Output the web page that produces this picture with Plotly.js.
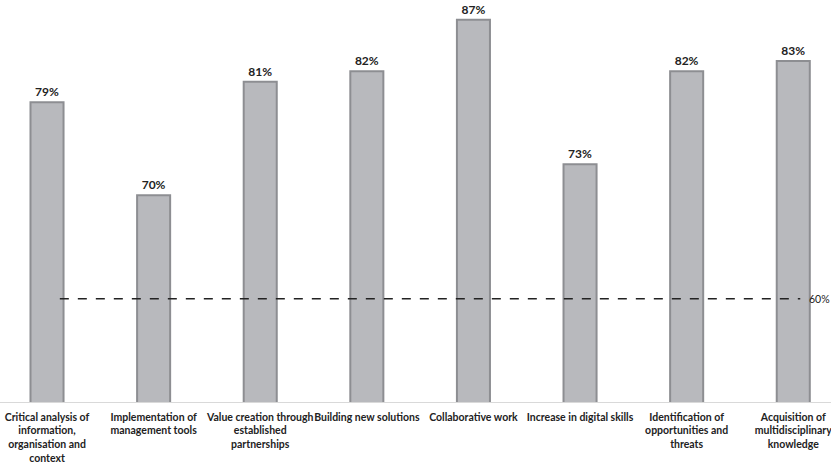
<!DOCTYPE html>
<html>
<head>
<meta charset="utf-8">
<script src="https://cdn.plot.ly/plotly-3.0.1.min.js"></script>
<style>html,body{margin:0;padding:0;background:#fff;}#chart{width:831px;height:463px;}</style>
</head>
<body>
<div id="chart"></div>
<script>
const categories = [
  "Critical analysis of<br>information,<br>organisation and<br>context",
  "Implementation of<br>management tools",
  "Value creation through<br>established<br>partnerships",
  "Building new solutions",
  "Collaborative work",
  "Increase in digital skills",
  "Identification of<br>opportunities and<br>threats",
  "Acquisition of<br>multidisciplinary<br>knowledge"
];
const values = [79, 70, 81, 82, 87, 73, 82, 83];
const threshold = 60;
const thresholdLabel = "60%";

const trace = {
  type: "bar",
  x: categories,
  y: values,
  width: 0.31,
  marker: { color: "#b8b9bd", line: { color: "#8d8e92", width: 2 } },
  texttemplate: "%{y}%",
  textposition: "outside",
  textfont: { family: "Lato, 'Open Sans', sans-serif", size: 12, color: "#222", weight: "bold" },
  hoverinfo: "skip"
};

const layout = {
  width: 831, height: 463,
  margin: { l: 0, r: 0, t: 0, b: 61 },
  paper_bgcolor: "#fff", plot_bgcolor: "#fff",
  showlegend: false,
  font: { family: "Lato, 'Open Sans', sans-serif", color: "#222" },
  xaxis: {
    type: "category",
    range: [-0.441, 7.354],
    showline: true, linecolor: "#d9d9d9", linewidth: 1,
    ticks: "", showgrid: false, zeroline: false,
    ticklabelstandoff: 5,
    tickfont: { family: "Lato, 'Open Sans', sans-serif", size: 10.5, color: "#222", weight: "bold" },
    tickangle: 0
  },
  yaxis: { range: [50, 88.9], visible: false, showgrid: false, zeroline: false },
  shapes: [{
    type: "line", xref: "paper", yref: "y",
    x0: 0.072, x1: 0.963, y0: threshold, y1: threshold,
    line: { color: "#222", width: 1.5, dash: "dash" }
  }],
  annotations: [{
    xref: "paper", yref: "y", x: 1, y: threshold,
    text: thresholdLabel, showarrow: false, xanchor: "right", yanchor: "middle",
    borderpad: 0,
    font: { family: "Lato, 'Open Sans', sans-serif", size: 10.5, color: "#222" }
  }]
};

Plotly.newPlot("chart", [trace], layout, { displayModeBar: false, staticPlot: true });
</script>
</body>
</html>
